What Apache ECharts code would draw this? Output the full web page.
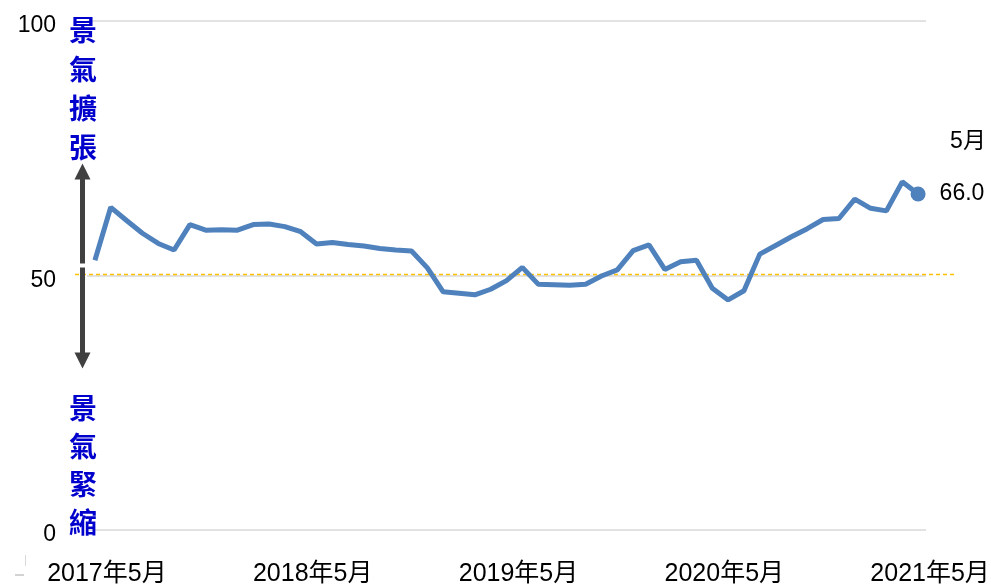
<!DOCTYPE html>
<html>
<head>
<meta charset="utf-8">
<script src="https://cdn.jsdelivr.net/npm/echarts@6/dist/echarts.min.js"></script>
<style>
  html, body { margin: 0; padding: 0; background: #fff; }
  #chart { width: 991px; height: 587px; }
</style>
</head>
<body>
<div id="chart"></div>
<script>
// monthly index readings, first to latest (53 points)
const values = [
  53.0, 63.4, 60.8, 58.3, 56.3, 55.0, 60.0, 58.9, 59.0, 58.9,
  60.0, 60.1, 59.6, 58.6, 56.2, 56.5, 56.1, 55.8, 55.3, 55.0,
  54.8, 51.5, 46.8, 46.5, 46.2, 47.3, 49.0, 51.6, 48.3, 48.2,
  48.1, 48.3, 49.9, 51.1, 54.9, 56.0, 51.2, 52.7, 53.0, 47.5,
  45.2, 47.0, 54.2, 55.9, 57.6, 59.2, 61.0, 61.2, 65.0, 63.2,
  62.7, 68.4, 66.0
]
const tickLabels = ['2017年5月', '2018年5月', '2019年5月', '2020年5月', '2021年5月']
const labelStep = 13
const yTicks = [0, 50, 100]
const threshold = 50
const lastLabel = '5月'
const upText = ['景', '氣', '擴', '張']
const downText = ['景', '氣', '緊', '縮']

// one category per point, tick label every 13th
const categories = values.map((v, i) => i % labelStep === 0 ? tickLabels[i / labelStep] : 'p' + i)

const chart = echarts.init(document.getElementById('chart'))
const lastIdx = values.length - 1

const option = {
  animation: false,
  grid: { left: 87, right: 65, top: 21, bottom: 57, outerBoundsMode: 'none' },
  xAxis: {
    type: 'category',
    data: categories,
    boundaryGap: true,
    axisLine: { show: false },
    axisTick: { show: false },
    axisLabel: {
      interval: labelStep - 1,
      margin: 32,
      fontSize: 25,
      color: '#000',
      fontFamily: 'Liberation Sans, Noto Sans CJK JP, sans-serif',
      padding: [0, 0, 0, 24],
      formatter: v => tickLabels.includes(v) ? v : ''
    },
    splitLine: { show: false }
  },
  yAxis: {
    type: 'value',
    min: yTicks[0],
    max: yTicks[yTicks.length - 1],
    interval: 50,
    axisLine: { show: false },
    axisTick: { show: false },
    axisLabel: {
      margin: 31,
      formatter: v => '{t|' + v + '}',
      rich: {
        t: {
          fontSize: 23,
          color: '#000',
          fontFamily: 'Liberation Sans, sans-serif',
          padding: [10, 0, 0, 0]
        }
      }
    },
    splitLine: { lineStyle: { color: '#D9D9D9', width: 1.5 } }
  },
  series: [{
    type: 'line',
    data: values.map((v, i) => i === lastIdx ? {
      value: v,
      symbol: 'circle',
      symbolSize: 15,
      label: {
        show: true,
        position: 'right',
        distance: 14,
        formatter: p => p.value.toFixed(1),
        fontSize: 23,
        color: '#000',
        fontFamily: 'Liberation Sans, sans-serif'
      }
    } : { value: v, symbol: 'none' }),
    lineStyle: { color: '#4F81BD', width: 5 },
    itemStyle: { color: '#4F81BD' },
    z: 5,
    markPoint: {
      symbol: 'circle',
      symbolSize: 0,
      data: [{ coord: [lastIdx, values[lastIdx]] }],
      label: {
        show: true,
        position: 'right',
        distance: 32,
        offset: [0, -52],
        formatter: lastLabel,
        fontSize: 23,
        color: '#000',
        fontFamily: 'Liberation Sans, Noto Sans CJK JP, sans-serif'
      }
    }
  }]
}

chart.setOption(option)

// annotations placed off the axis scale
const y50 = chart.convertToPixel({ yAxisIndex: 0 }, threshold)
const ax = 82.5
const arrowColor = '#404040'
const vtextStyle = {
  font: 'bold 28px "Noto Sans CJK TC", sans-serif',
  fill: '#0000CC',
  textAlign: 'center',
  lineHeight: 39
}

chart.setOption({
  graphic: [
    {
      type: 'line', z: 3,
      shape: { x1: 75, y1: y50 - 1, x2: 955, y2: y50 - 1 },
      style: { stroke: '#FFC000', lineWidth: 1.5, lineDash: [4, 3] }
    },
    {
      type: 'line', z: 4,
      shape: { x1: ax, y1: y50 - 12, x2: ax, y2: y50 - 97 },
      style: { stroke: arrowColor, lineWidth: 5 }
    },
    {
      type: 'polygon', z: 4,
      shape: { points: [[ax, y50 - 112], [ax - 8, y50 - 96], [ax + 8, y50 - 96]] },
      style: { fill: arrowColor }
    },
    {
      type: 'line', z: 4,
      shape: { x1: ax, y1: y50 - 8, x2: ax, y2: y50 + 78 },
      style: { stroke: arrowColor, lineWidth: 5 }
    },
    {
      type: 'polygon', z: 4,
      shape: { points: [[ax, y50 + 93], [ax - 8, y50 + 77], [ax + 8, y50 + 77]] },
      style: { fill: arrowColor }
    },
    {
      type: 'text', z: 6, left: 69, top: 11,
      style: Object.assign({ text: upText.join('\n') }, vtextStyle)
    },
    {
      type: 'text', z: 6, left: 69, top: 389,
      style: Object.assign({ text: downText.join('\n') }, vtextStyle, { lineHeight: 38 })
    },
    {
      type: 'line', z: 1,
      shape: { x1: 15, y1: 575, x2: 24, y2: 575 },
      style: { stroke: '#A6A6A6', lineWidth: 1 }
    },
    {
      type: 'line', z: 1,
      shape: { x1: 25.5, y1: 555, x2: 25.5, y2: 566 },
      style: { stroke: '#D9D9D9', lineWidth: 1 }
    }
  ]
})
</script>
</body>
</html>
